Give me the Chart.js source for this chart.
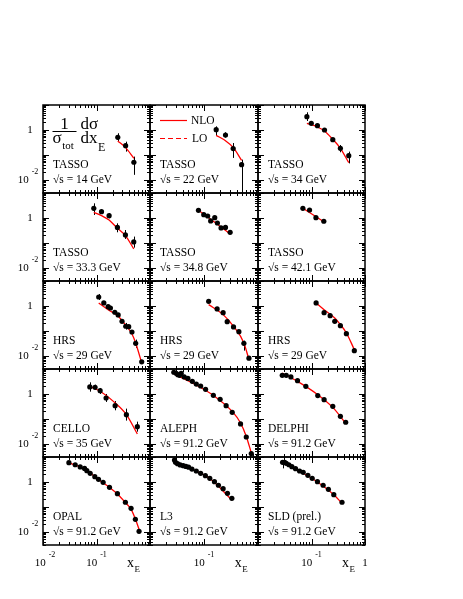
<!DOCTYPE html>
<html lang="en">
<head>
<meta charset="utf-8">
<title>Fragmentation functions x_E</title>
<script src="https://cdn.jsdelivr.net/npm/chart.js@4.4.1/dist/chart.umd.min.js"></script>
<style>
  body { margin: 0; background: #fff; }
  #wrap { position: relative; width: 463px; height: 599px; }
  #wrap canvas { position: absolute; left: 0; top: 0; }
</style>
</head>
<body>
<div id="wrap"></div>
<script>
// panel labels
const expNames = ['TASSO', 'TASSO', 'TASSO', 'TASSO', 'TASSO', 'TASSO',
  'HRS', 'HRS', 'HRS', 'CELLO', 'ALEPH', 'DELPHI', 'OPAL', 'L3', 'SLD (prel.)'];
const energies = ['14', '22', '34', '33.3', '34.8', '42.1', '29', '29', '29',
  '35', '91.2', '91.2', '91.2', '91.2', '91.2'];

// data: x_E, 1/sigma dsigma/dx_E, error bar ends, NLO curve
const t14X = [0.25, 0.35, 0.50];
const t14Y = [0.51, 0.236, 0.051];
const t14Lo = [0.36, 0.136, 0.016];
const t14Hi = [0.74, 0.34, 0.086];
const t14FitX = [0.25, 0.35, 0.50];
const t14FitY = [0.363, 0.196, 0.074];

const t22X = [0.168, 0.25, 0.347, 0.497];
const t22Y = [1.03, 0.63, 0.18, 0.041];
const t22Lo = [0.59, 0.49, 0.076, 0.0005];
const t22Hi = [1.40, 0.81, 0.30, 0.065];
const t22FitX = [0.168, 0.25, 0.347, 0.497];
const t22FitY = [0.61, 0.37, 0.2, 0.061];

const t34X = [0.082, 0.099, 0.129, 0.175, 0.25, 0.347, 0.497];
const t34Y = [3.4, 1.85, 1.49, 1.0, 0.41, 0.185, 0.094];
const t34Lo = [2.29, null, null, null, null, 0.128, 0.046];
const t34Hi = [5.1, null, null, null, null, 0.25, 0.136];
const t34FitX = [0.082, 0.129, 0.175, 0.25, 0.347, 0.497];
const t34FitY = [1.85, 1.32, 0.91, 0.42, 0.185, 0.049];

const t333X = [0.089, 0.124, 0.172, 0.246, 0.347, 0.497];
const t333Y = [2.44, 1.79, 1.24, 0.42, 0.209, 0.11];
const t333Lo = [1.32, 1.45, 0.97, 0.267, 0.145, 0.065];
const t333Hi = [3.86, 2.22, 1.58, 0.61, 0.33, 0.18];
const t333FitX = [0.089, 0.124, 0.172, 0.246, 0.347, 0.497];
const t333FitY = [1.69, 1.24, 0.83, 0.386, 0.196, 0.058];

const t348X = [0.079, 0.099, 0.117, 0.133, 0.158, 0.177, 0.207, 0.25, 0.305];
const t348Y = [2.03, 1.36, 1.2, 0.76, 1.03, 0.63, 0.40, 0.42, 0.267];
const t348FitX = [0.079, 0.158, 0.305];
const t348FitY = [2.03, 0.67, 0.229];

const t421X = [0.069, 0.092, 0.121, 0.17];
const t421Y = [2.44, 2.09, 1.03, 0.74];
const t421FitX = [0.069, 0.17];
const t421FitY = [2.44, 0.71];

const hrsAX = [0.11, 0.137, 0.165, 0.182, 0.22, 0.254, 0.30, 0.352, 0.40, 0.46, 0.54, 0.70];
const hrsAY = [2.29, 1.32, 0.94, 0.83, 0.56, 0.44, 0.244, 0.154, 0.149, 0.091, 0.032, 0.0058];
const hrsALo = [1.74, null, null, null, null, null, null, 0.113, null, null, 0.021, null];
const hrsAHi = [3.0, null, null, null, null, null, null, 0.21, null, null, 0.045, null];
const hrsAFitX = [0.11, 0.165, 0.254, 0.352, 0.46, 0.54, 0.70];
const hrsAFitY = [1.32, 0.71, 0.386, 0.169, 0.076, 0.033, 0.0052];

const hrsBX = [0.122, 0.175, 0.226, 0.269, 0.352, 0.443, 0.548, 0.68];
const hrsBY = [1.54, 0.76, 0.54, 0.236, 0.145, 0.094, 0.032, 0.0081];
const hrsBLo = [null, null, null, null, null, null, 0.0163, null];
const hrsBHi = [null, null, null, null, null, null, 0.041, null];
const hrsBFitX = [0.122, 0.226, 0.352, 0.548, 0.68];
const hrsBFitY = [1.13, 0.45, 0.154, 0.033, 0.0071];

const hrsCX = [0.122, 0.172, 0.223, 0.272, 0.347, 0.449, 0.632];
const hrsCY = [1.32, 0.54, 0.41, 0.244, 0.163, 0.078, 0.0163];
const hrsCFitX = [0.122, 0.172, 0.272, 0.347, 0.449, 0.632];
const hrsCFitY = [1.32, 0.71, 0.33, 0.18, 0.083, 0.0179];

const celloX = [0.075, 0.094, 0.117, 0.151, 0.223, 0.362, 0.58];
const celloY = [1.91, 1.85, 1.36, 0.69, 0.34, 0.149, 0.049];
const celloLo = [1.24, 1.45, 1.0, 0.48, 0.222, 0.086, 0.031];
const celloHi = [2.93, 2.36, 1.74, 1.0, 0.52, 0.259, 0.078];
const celloFitX = [0.075, 0.117, 0.223, 0.362, 0.58];
const celloFitY = [2.03, 1.28, 0.44, 0.149, 0.025];

const alephX = [0.0276, 0.0305, 0.0328, 0.0352, 0.0378, 0.043, 0.0503, 0.0607, 0.072,
  0.0867, 0.107, 0.149, 0.199, 0.257, 0.333, 0.475, 0.607, 0.751];
const alephY = [7.4, 6.7, 5.9, 5.6, 6.7, 4.8, 4.2, 3.2, 2.5,
  2.09, 1.54, 0.88, 0.61, 0.34, 0.185, 0.063, 0.019, 0.0041];
const alephFitX = [0.0276, 0.0607, 0.149, 0.333, 0.475, 0.607, 0.751];
const alephFitY = [6.3, 2.75, 0.88, 0.2, 0.069, 0.02, 0.0044];

const delphiX = [0.0284, 0.0337, 0.0412, 0.0548, 0.0784, 0.131, 0.172, 0.25, 0.347, 0.436];
const delphiY = [5.6, 5.6, 4.8, 3.4, 2.03, 0.86, 0.59, 0.32, 0.128, 0.074];
const delphiFitX = [0.0284, 0.0548, 0.131, 0.25, 0.436];
const delphiFitY = [6.9, 3.2, 0.94, 0.29, 0.067];

const opalX = [0.0305, 0.04, 0.0496, 0.0598, 0.066, 0.0762, 0.093, 0.109, 0.133,
  0.175, 0.246, 0.347, 0.443, 0.533, 0.624];
const opalY = [5.9, 4.9, 4.0, 3.5, 2.84, 2.22, 1.63, 1.28, 0.97,
  0.61, 0.34, 0.154, 0.088, 0.032, 0.0106];
const opalFitX = [0.0305, 0.0598, 0.109, 0.175, 0.246, 0.347, 0.443, 0.533, 0.624];
const opalFitY = [5.8, 3.3, 1.25, 0.6, 0.33, 0.15, 0.08, 0.033, 0.0128];

const l3X = [0.0284, 0.0297, 0.0323, 0.0362, 0.0412, 0.0462, 0.0518, 0.0598, 0.072,
  0.0867, 0.106, 0.128, 0.156, 0.185, 0.226, 0.272, 0.328];
const l3Y = [7.6, 6.1, 5.4, 4.8, 4.5, 4.2, 3.9, 3.3, 2.75,
  2.22, 1.79, 1.40, 1.03, 0.74, 0.54, 0.35, 0.222];
const l3FitX = [0.0284, 0.0598, 0.128, 0.328];
const l3FitY = [5.9, 3.2, 1.38, 0.19];

const sldX = [0.0288, 0.0314, 0.0337, 0.0378, 0.043, 0.0503, 0.0598, 0.07, 0.0855,
  0.103, 0.129, 0.165, 0.207, 0.261, 0.372];
const sldY = [6.1, 6.1, 5.6, 4.9, 4.1, 3.4, 2.75, 2.44, 1.85,
  1.40, 1.03, 0.74, 0.51, 0.31, 0.154];
const sldLo = [3.5];
const sldHi = [6.5];
const sldFitX = [0.0288, 0.0598, 0.129, 0.261, 0.372];
const sldFitY = [6.1, 2.7, 1.0, 0.31, 0.14];

const panels = [
  [t14X, t14Y, t14Lo, t14Hi, t14FitX, t14FitY],
  [t22X, t22Y, t22Lo, t22Hi, t22FitX, t22FitY],
  [t34X, t34Y, t34Lo, t34Hi, t34FitX, t34FitY],
  [t333X, t333Y, t333Lo, t333Hi, t333FitX, t333FitY],
  [t348X, t348Y, [], [], t348FitX, t348FitY],
  [t421X, t421Y, [], [], t421FitX, t421FitY],
  [hrsAX, hrsAY, hrsALo, hrsAHi, hrsAFitX, hrsAFitY],
  [hrsBX, hrsBY, hrsBLo, hrsBHi, hrsBFitX, hrsBFitY],
  [hrsCX, hrsCY, [], [], hrsCFitX, hrsCFitY],
  [celloX, celloY, celloLo, celloHi, celloFitX, celloFitY],
  [alephX, alephY, [], [], alephFitX, alephFitY],
  [delphiX, delphiY, [], [], delphiFitX, delphiFitY],
  [opalX, opalY, [], [], opalFitX, opalFitY],
  [l3X, l3Y, [], [], l3FitX, l3FitY],
  [sldX, sldY, sldLo, sldHi, sldFitX, sldFitY]
];

const W = 463, H = 599;
const colL = [43, 150, 258], colR = [150, 258, 365];
const rowT = [105, 193, 281, 369, 457], rowH = 88;
const SERIF = '"Liberation Serif", "Times New Roman", serif';

function font(px) { return px + 'px ' + SERIF; }

// "10" with a raised exponent, centred on cx
function powText(ctx, base, exp, cx, cy) {
  ctx.font = font(11);
  const w1 = ctx.measureText(base).width;
  ctx.font = font(8);
  const w2 = ctx.measureText(exp).width;
  const x0 = cx - (w1 + w2 + 3) / 2;
  ctx.textAlign = 'left';
  ctx.textBaseline = 'middle';
  ctx.font = font(11);
  ctx.fillText(base, x0, cy);
  ctx.font = font(8);
  ctx.fillText(exp, x0 + w1 + 3, cy - 8);
}

// text on a baseline with a lowered index
function subText(ctx, main, sub, x, base, size, subSize, dy) {
  ctx.textAlign = 'left';
  ctx.textBaseline = 'alphabetic';
  ctx.font = font(size);
  ctx.fillText(main, x, base);
  const w = ctx.measureText(main).width;
  ctx.font = font(subSize);
  ctx.fillText(sub, x + w + 0.5, base + dy);
}

const wrap = document.getElementById('wrap');

panels.forEach((p, i) => {
  const row = Math.floor(i / 3), col = i % 3;
  const [px, py, lo, hi, fx, fy] = p;
  const canvas = document.createElement('canvas');
  canvas.width = W;
  canvas.height = H;
  wrap.appendChild(canvas);

  const frame = {
    id: 'frame' + i,
    beforeDatasetsDraw(chart) {
      const ctx = chart.ctx, a = chart.chartArea;
      const xs = chart.scales.x, ys = chart.scales.y;
      ctx.save();
      ctx.beginPath();
      ctx.rect(a.left, a.top, a.right - a.left, a.bottom - a.top);
      ctx.clip();
      ctx.strokeStyle = '#000';
      ctx.lineWidth = 1;
      lo.forEach((l, k) => {
        if (l == null) return;
        const x = Math.round(xs.getPixelForValue(px[k])) + 0.5;
        ctx.beginPath();
        ctx.moveTo(x, ys.getPixelForValue(l));
        ctx.lineTo(x, ys.getPixelForValue(hi[k]));
        ctx.stroke();
      });
      ctx.restore();
    },
    afterDraw(chart) {
      const ctx = chart.ctx, a = chart.chartArea;
      const xs = chart.scales.x, ys = chart.scales.y;
      ctx.save();
      ctx.strokeStyle = '#000';
      ctx.lineWidth = 1;
      // x ticks, top and bottom
      for (let d = -2; d <= 0; d++) {
        for (let m = 1; m <= 9; m++) {
          const v = m * Math.pow(10, d);
          if (v > 1.0001) break;
          const x = Math.round(xs.getPixelForValue(v)) + 0.5;
          const len = m === 1 ? 6 : 3;
          ctx.beginPath();
          ctx.moveTo(x, a.bottom); ctx.lineTo(x, a.bottom - len);
          ctx.moveTo(x, a.top); ctx.lineTo(x, a.top + len);
          ctx.stroke();
        }
      }
      // y ticks, left and right
      for (let d = -3; d <= 1; d++) {
        for (let m = 1; m <= 9; m++) {
          const v = m * Math.pow(10, d);
          if (v < 0.00299 || v > 10.001) continue;
          const y = Math.round(ys.getPixelForValue(v)) + 0.5;
          const len = m === 1 ? 6 : 3;
          ctx.beginPath();
          ctx.moveTo(a.left, y); ctx.lineTo(a.left + len, y);
          ctx.moveTo(a.right, y); ctx.lineTo(a.right - len, y);
          ctx.stroke();
        }
      }
      ctx.lineWidth = 1.5;
      ctx.strokeRect(a.left, a.top, a.right - a.left, a.bottom - a.top);

      ctx.fillStyle = '#000';
      // experiment and energy
      ctx.textAlign = 'left';
      ctx.textBaseline = 'middle';
      ctx.font = font(11.5);
      ctx.fillText(expNames[i], a.left + 10, a.top + 60);
      ctx.fillText('\u221As = ' + energies[i] + ' GeV', a.left + 10, a.top + 75);

      // y tick labels on the left column
      if (col === 0) {
        ctx.font = font(11);
        ctx.textAlign = 'center';
        ctx.fillText('1', 30, ys.getPixelForValue(1));
        powText(ctx, '10', '-2', 28, ys.getPixelForValue(0.01));
      }
      // x tick labels under the bottom row
      if (row === 4) {
        const yl = 563;
        if (col === 0) powText(ctx, '10', '-2', xs.getPixelForValue(0.01) + 2, yl);
        powText(ctx, '10', '-1', xs.getPixelForValue(0.1), yl);
        subText(ctx, 'x', 'E', xs.getPixelForValue(0.37), yl + 4, 14, 9, 5);
        if (col === 2) {
          ctx.font = font(11);
          ctx.textAlign = 'center';
          ctx.textBaseline = 'middle';
          ctx.fillText('1', xs.getPixelForValue(1), yl);
        }
      }
      // axis title in the first panel
      if (i === 0) {
        ctx.font = font(17);
        ctx.textAlign = 'center';
        ctx.textBaseline = 'alphabetic';
        ctx.fillText('1', 64.5, 129);
        ctx.lineWidth = 1;
        ctx.beginPath();
        ctx.moveTo(52.5, 131.5); ctx.lineTo(76.5, 131.5);
        ctx.stroke();
        subText(ctx, '\u03C3', 'tot', 52.5, 142.5, 17, 11, 6);
        subText(ctx, 'd\u03C3', '', 80.5, 129, 17, 11, 0);
        subText(ctx, 'dx', 'E', 80.5, 142.5, 17, 12, 8);
      }
      // legend in the second panel
      if (i === 1) {
        ctx.strokeStyle = '#ff0000';
        ctx.lineWidth = 1.2;
        ctx.beginPath();
        ctx.moveTo(160, 120.5); ctx.lineTo(187, 120.5);
        ctx.stroke();
        ctx.setLineDash([5, 3]);
        ctx.beginPath();
        ctx.moveTo(160, 138.5); ctx.lineTo(187, 138.5);
        ctx.stroke();
        ctx.setLineDash([]);
        ctx.font = font(11.5);
        ctx.textAlign = 'left';
        ctx.textBaseline = 'middle';
        ctx.fillText('NLO', 191, 121);
        ctx.fillText('LO', 192, 139);
      }
      ctx.restore();
    }
  };

  new Chart(canvas, {
    type: 'scatter',
    data: {
      datasets: [
        {
          type: 'line',
          label: 'NLO',
          data: fx.map((x, k) => ({ x: x, y: fy[k] })),
          showLine: true,
          borderColor: '#ff0000',
          borderWidth: 1.3,
          pointRadius: 0,
          cubicInterpolationMode: 'monotone',
          fill: false,
          order: 1
        },
        {
          label: expNames[i],
          data: px.map((x, k) => ({ x: x, y: py[k] })),
          backgroundColor: '#000',
          borderWidth: 0,
          pointRadius: 2.6,
          order: 0
        }
      ]
    },
    options: {
      responsive: false,
      animation: false,
      devicePixelRatio: 1,
      layout: {
        padding: { left: colL[col], right: W - colR[col], top: rowT[row], bottom: H - rowT[row] - rowH }
      },
      plugins: { legend: { display: false }, tooltip: { enabled: false } },
      scales: {
        x: { type: 'logarithmic', min: 0.01, max: 1, display: false },
        y: { type: 'logarithmic', min: 0.003, max: 10, display: false }
      }
    },
    plugins: [frame]
  });
});
</script>
</body>
</html>
